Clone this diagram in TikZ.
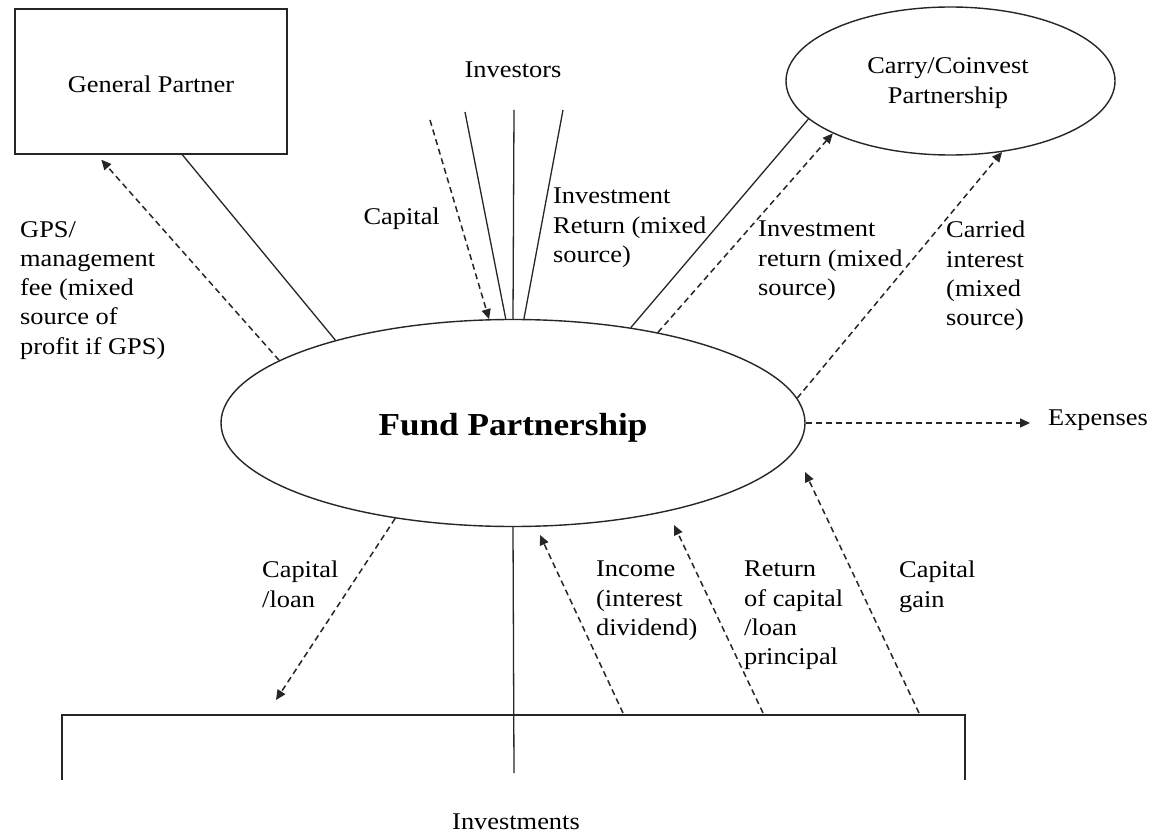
\documentclass[tikz,border=0pt]{standalone}
\usepackage{fontspec}
\setmainfont{Liberation Serif}[FakeStretch=1.1]
\usetikzlibrary{arrows.meta,shapes.geometric}
\begin{document}
\begin{tikzpicture}[x=1pt,y=-1pt,
  txt/.style={inner sep=0pt, font=\fontsize{24}{29.3}\selectfont},
  lbl/.style={txt, anchor=north west, align=left},
  link/.style={line width=1.3pt, draw=black!85},
  flow/.style={line width=1.5pt, draw=black!85, dash pattern=on 6pt off 4pt,
     -{Triangle[length=10pt,width=9pt]}},
  box/.style={draw=black!85, line width=1.4pt, inner sep=0pt},
]
\useasboundingbox[fill=white] (0,0) rectangle (1151,834);

% nodes
\node[box, rectangle, minimum width=272pt, minimum height=145pt] (gp) at (151,81.5) {};
\node[txt] (gptext) at (151,84) {General Partner};
\node[box, ellipse, minimum width=584pt, minimum height=207pt] (fund) at (513,423) {};
\node[txt, font=\fontsize{32}{36}\selectfont\bfseries] (fundtext) at (513,428) {Fund Partnership};
\node[box, ellipse, minimum width=329pt, minimum height=148pt] (carry) at (950.5,81) {};
\node[txt, align=center] (carrytext) at (948,83) {Carry/Coinvest\\Partnership};
\node[txt] (investors) at (513,70) {Investors};
\node[txt] (expenses) at (1098,420) {Expenses};
\node[txt] (investments) at (516,822) {Investments};

% free ends
\coordinate (i1) at (465,112);
\coordinate (i2) at (514,110);
\coordinate (i3) at (563,110);
\coordinate (capstart) at (430,120);
\coordinate (expend) at (1030,423);
\coordinate (loanend) at (276,700);
\coordinate (brL) at (62,780);
\coordinate (brTL) at (62,715);
\coordinate (brTR) at (965,715);
\coordinate (brR) at (965,780);
\coordinate (stem) at (514,773);
\coordinate (incS) at (623,713);
\coordinate (incE) at (540,535);
\coordinate (retS) at (763,713);
\coordinate (retE) at (674,525);
\coordinate (cgS) at (919,713);
\coordinate (cgE) at (805,472);

% solid links
\draw[link] ([xshift=168pt]gp.south west) -- (fund.155.9);
\draw[link] (i1) -- (fund.94.4);
\draw[link] (i2) -- (fund.90);
\draw[link] (i3) -- (fund.84.5);
\draw[link] (fund.39.1) -- (carry.195.7);
\draw[link] (fund.south) -- (stem);
\draw[link] (brL) -- (brTL) -- (brTR) -- (brR);

% flows
\draw[flow] (fund.165.4) -- ([xshift=87pt,yshift=-5pt]gp.south west);
\draw[flow] (capstart) -- (fund.103.9);
\draw[flow] (fund.32.8) -- (carry.204.5);
\draw[flow] (fund.5.6) -- (carry.306);
\draw[flow] (fund.east) -- (expend);
\draw[flow] (fund.219.8) -- (loanend);
\draw[flow] (incS) -- (incE);
\draw[flow] (retS) -- (retE);
\draw[flow] (cgS) -- (cgE);

% labels
\node[lbl] (lgps) at (20,221) {GPS/\\management\\fee (mixed\\source of\\profit if GPS)};
\node[txt, anchor=east] (lcap) at (440,219) {Capital};
\node[lbl] (lir1) at (553,188) {Investment\\Return (mixed\\source)};
\node[lbl] (lir2) at (758,221) {Investment\\return (mixed\\source)};
\node[lbl] (lci) at (946,221) {Carried\\interest\\(mixed\\source)};
\node[lbl] (lcl) at (262,561) {Capital\\/loan};
\node[lbl] (linc) at (596,561) {Income\\(interest\\dividend)};
\node[lbl] (lret) at (744,561) {Return\\of capital\\/loan\\principal};
\node[lbl] (lcg) at (899,561) {Capital\\gain};
\end{tikzpicture}
\end{document}
